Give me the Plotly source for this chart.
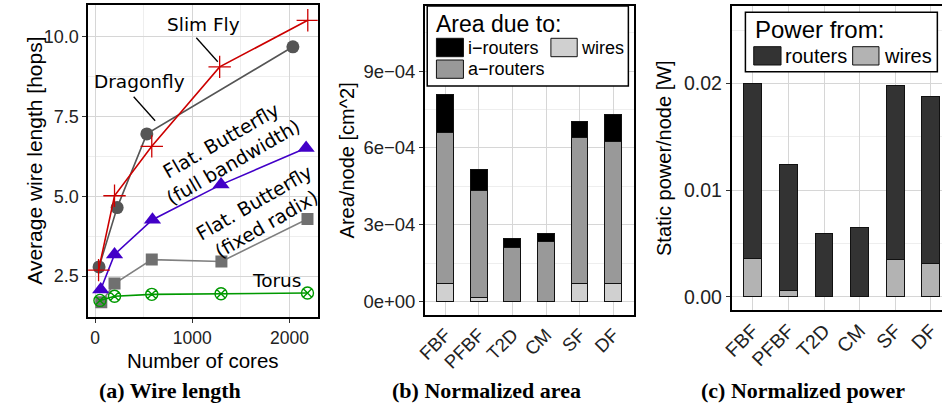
import plotly.graph_objects as go

W, H = 942, 406

# ---------------- data ----------------
# (a) Wire length
sf_cores = [36, 200, 583, 1281, 2187]
sf_hops = [2.69, 5.02, 6.57, 9.06, 10.52]
df_cores = [41, 227, 532, 2034]
df_hops = [2.79, 4.65, 6.96, 9.69]
fbf_full_cores = [58, 200, 590, 1295, 2170]
fbf_full_hops = [2.08, 3.18, 4.27, 5.37, 6.52]
fbf_fixed_cores = [64, 200, 583, 1299, 2184]
fbf_fixed_hops = [1.68, 2.27, 3.02, 2.96, 4.29]
torus_cores = [50, 200, 583, 1295, 2184]
torus_hops = [1.74, 1.87, 1.93, 1.95, 1.97]

# (b) Normalized area
topologies = ["FBF", "PFBF", "T2D", "CM", "SF", "DF"]
area_wires = [0.68e-4, 0.13e-4, 0.0, 0.0, 0.70e-4, 0.68e-4]
area_arouters = [5.91e-4, 4.19e-4, 2.11e-4, 2.31e-4, 5.68e-4, 5.55e-4]
area_irouters = [1.47e-4, 0.83e-4, 0.34e-4, 0.34e-4, 0.65e-4, 1.06e-4]

# (c) Normalized power
power_wires = [0.00356, 0.00053, 0.0, 0.0, 0.00347, 0.00306]
power_routers = [0.01644, 0.01181, 0.00594, 0.00647, 0.01634, 0.01572]

# tick labels
a_xticks = [0, 1000, 2000]
a_yticks = [2.5, 5.0, 7.5, 10.0]
a_yticktext = ["2.5", "5.0", "7.5", "10.0"]
b_yticks = [0, 3e-4, 6e-4, 9e-4]
b_yticktext = ["0e+00", "3e\u221204", "6e\u221204", "9e\u221204"]
c_yticks = [0, 0.01, 0.02]
c_yticktext = ["0.00", "0.01", "0.02"]


def px(x):
    return x / W


def py(y):
    return 1 - y / H


SANS = "Liberation Sans, Arial, sans-serif"
DEJ = "DejaVu Sans, sans-serif"
SERIF = "Liberation Serif, serif"

fig = go.Figure()

# ---------------- panel (a) ----------------
fig.add_trace(go.Scatter(x=fbf_fixed_cores, y=fbf_fixed_hops, mode="lines+markers",
                         line=dict(color="#808080", width=1.6),
                         marker=dict(symbol="square", size=12, color="#707070"),
                         xaxis="x", yaxis="y", showlegend=False))
fig.add_trace(go.Scatter(x=torus_cores, y=torus_hops, mode="lines+markers",
                         line=dict(color="#009900", width=1.6),
                         marker=dict(symbol="circle-x-open", size=12, color="#009900",
                                     line=dict(width=1.4, color="#009900")),
                         xaxis="x", yaxis="y", showlegend=False))
fig.add_trace(go.Scatter(x=fbf_full_cores, y=fbf_full_hops, mode="lines+markers",
                         line=dict(color="#4200c8", width=1.6),
                         marker=dict(symbol="triangle-up", size=15, color="#4200c8"),
                         xaxis="x", yaxis="y", showlegend=False))
fig.add_trace(go.Scatter(x=df_cores, y=df_hops, mode="lines+markers",
                         line=dict(color="#555555", width=1.6),
                         marker=dict(symbol="circle", size=13, color="#555555"),
                         xaxis="x", yaxis="y", showlegend=False))
fig.add_trace(go.Scatter(x=sf_cores, y=sf_hops, mode="lines+markers",
                         line=dict(color="#cc0000", width=1.6),
                         marker=dict(symbol="cross-thin-open", size=16, color="#cc0000",
                                     line=dict(width=1.3, color="#cc0000")),
                         xaxis="x", yaxis="y", showlegend=False))

# ---------------- panel (b) ----------------
for vals, col in [(area_wires, "#d0d0d0"), (area_arouters, "#999999"), (area_irouters, "#000000")]:
    fig.add_trace(go.Bar(x=topologies, y=vals, width=0.5,
                         marker=dict(color=col, line=dict(color="#111111", width=1)),
                         xaxis="x2", yaxis="y2", showlegend=False))

# ---------------- panel (c) ----------------
for vals, col in [(power_wires, "#b3b3b3"), (power_routers, "#333333")]:
    fig.add_trace(go.Bar(x=topologies, y=vals, width=0.5,
                         marker=dict(color=col, line=dict(color="#111111", width=1)),
                         xaxis="x3", yaxis="y3", showlegend=False))

GRID = "#d6d6d6"
MINOR = "#eeeeee"
common_line = dict(showline=True, linecolor="black", linewidth=1.5, zeroline=False,
                   showgrid=True, gridcolor=GRID, gridwidth=1)

fig.update_layout(
    width=W, height=H, margin=dict(l=0, r=0, t=0, b=0),
    paper_bgcolor="white", plot_bgcolor="white",
    barmode="stack", bargap=0,
    font=dict(family=SANS, color="black"),
    xaxis=dict(domain=[px(79), px(311)], range=[-71, 2289], tickvals=a_xticks,
               ticks="outside", ticklen=4, tickcolor="#333333", mirror=True,
               tickfont=dict(size=17.5, color="#222222"),
               minor=dict(tickvals=[500, 1500], showgrid=True, gridcolor=MINOR, ticks=""),
               anchor="y", **common_line),
    yaxis=dict(domain=[py(317), py(5)], range=[1.22, 11.0], tickvals=a_yticks,
               ticktext=a_yticktext, ticks="outside", ticklen=4, tickcolor="#333333",
               mirror=True, tickfont=dict(size=18, color="#222222"),
               minor=dict(tickvals=[3.75, 6.25, 8.75], showgrid=True, gridcolor=MINOR, ticks=""),
               anchor="x", **common_line),
    xaxis2=dict(domain=[px(419.3), px(631)], type="category", range=[-0.61, 5.62],
                ticks="", mirror=True, tickangle=-45,
                tickfont=dict(size=18.5, color="#222222"), anchor="y2", **common_line),
    yaxis2=dict(domain=[py(315), py(6)], range=[-0.52e-4, 11.54e-4], tickvals=b_yticks,
                ticktext=b_yticktext, ticks="outside", ticklen=4, tickcolor="#333333",
                mirror=True, tickfont=dict(size=18.5, color="#222222"),
                minor=dict(tickvals=[1.5e-4, 4.5e-4, 7.5e-4, 10.5e-4], showgrid=True,
                           gridcolor=MINOR, ticks=""),
                anchor="x2", **common_line),
    xaxis3=dict(domain=[px(729.3), 1.0], type="category", range=[-0.594, 5.31],
                ticks="", mirror=True, tickangle=-45,
                tickfont=dict(size=19.5, color="#222222"), anchor="y3", **common_line),
    yaxis3=dict(domain=[py(310), py(5.7)], range=[-0.00125, 0.0273], tickvals=c_yticks,
                ticktext=c_yticktext, ticks="outside", ticklen=4, tickcolor="#333333",
                mirror=False, tickfont=dict(size=19.5, color="#222222"),
                minor=dict(tickvals=[0.005, 0.015, 0.025], showgrid=True,
                           gridcolor=MINOR, ticks=""),
                anchor="x3", **common_line),
)

shapes = []
annotations = []

# leader lines in panel (a)
shapes.append(dict(type="line", xref="paper", yref="paper", x0=px(188.3), y0=py(37.7),
                   x1=px(210), y1=py(61.7), line=dict(color="black", width=1.3)))
shapes.append(dict(type="line", xref="paper", yref="paper", x0=px(125), y0=py(96.7),
                   x1=px(146.7), y1=py(120.7), line=dict(color="black", width=1.3)))


def ann(text, x, y, size, family=SANS, angle=0, xanchor="center", yanchor="middle", color="black"):
    annotations.append(dict(text=text, x=px(x), y=py(y), xref="paper", yref="paper",
                            showarrow=False, textangle=angle, xanchor=xanchor,
                            yanchor=yanchor, borderpad=0,
                            font=dict(size=size, family=family, color=color)))


ann("Slim Fly", 195.5, 24, 18.5, DEJ)
ann("Dragonfly", 130.5, 81, 18.5, DEJ)
ann("Flat. Butterfly<br>(full bandwidth)", 219, 151.5, 19, DEJ, angle=-30)
ann("Flat. Butterfly<br>(fixed radix)", 252.5, 213, 19, DEJ, angle=-30)
ann("Torus", 269, 280, 18.5, DEJ)

# axis titles
ann("Average wire length [hops]", 24, 161, 21, angle=-90)
ann("Number of cores", 195, 360, 20.5)
ann("Area/node [cm^2]", 341, 160, 20, angle=-90)
ann("Static power/node [W]", 661, 158, 20, angle=-90)

# captions
ann("<b>(a) Wire length</b>", 161.7, 390, 22, SERIF)
ann("<b>(b) Normalized area</b>", 481.7, 390, 22, SERIF)
ann("<b>(c) Normalized power</b>", 801.7, 390, 22, SERIF)


def rect(x0, y0, x1, y1, fill, lw=1.0, lc="#111111"):
    shapes.append(dict(type="rect", xref="paper", yref="paper", x0=px(x0), x1=px(x1),
                       y0=py(y1), y1=py(y0), fillcolor=fill, layer="above",
                       line=dict(color=lc, width=lw)))


# legend (b)
rect(421.7, 6, 625, 86, "white", lw=1.5, lc="black")
ann("Area due to:", 430, 24.3, 23, xanchor="left")
rect(431, 38.3, 458.3, 56.7, "#000000")
ann("i\u2212routers", 461.7, 47.5, 18, xanchor="left")
rect(546.7, 38.3, 573.3, 56.7, "#d0d0d0")
ann("wires", 575.7, 47.5, 18, xanchor="left")
rect(431, 60, 458.3, 78.3, "#999999")
ann("a\u2212routers", 461.7, 69, 18, xanchor="left")

# legend (c)
rect(743.3, 12.3, 937.3, 71.7, "white", lw=1.5, lc="black")
ann("Power from:", 752.3, 29.3, 24, xanchor="left")
rect(751.7, 46.7, 779.3, 65, "#333333")
ann("routers", 782.3, 56, 20, xanchor="left")
rect(851.7, 46.7, 878.3, 65, "#b3b3b3")
ann("wires", 882.3, 56, 20, xanchor="left")

fig.update_layout(shapes=shapes, annotations=annotations)

fig.write_html("out.html", config={"displayModeBar": False},
               post_script="document.body.style.margin='0';document.body.style.overflow='hidden';")
